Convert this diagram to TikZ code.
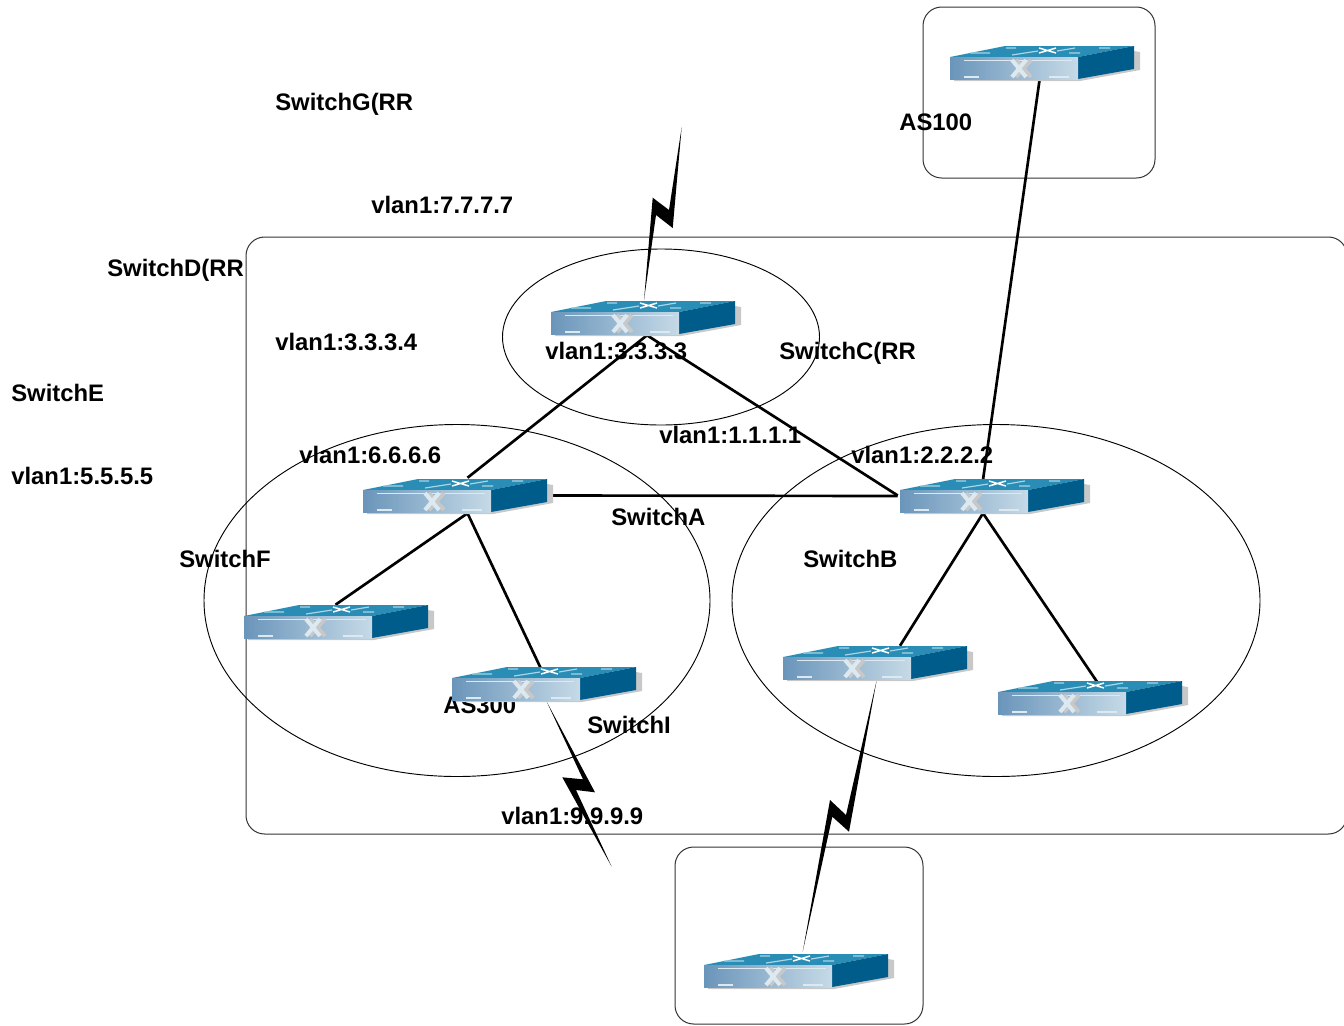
\documentclass[tikz,border=0pt]{standalone}
\usepackage{fontspec}
\setmainfont{Liberation Sans}
\definecolor{swtop}{HTML}{2A8DB5}
\definecolor{swside}{HTML}{005C8A}
\definecolor{swdark}{HTML}{6A95BA}
\definecolor{swlight}{HTML}{C6DAE7}
\definecolor{swshadow}{HTML}{C8C8C8}
\definecolor{swglow}{HTML}{DCE9F1}
\definecolor{swglint}{HTML}{A9D5E6}
\definecolor{framecol}{HTML}{333333}
\tikzset{
  x=0.75pt,y=-0.75pt,
  frame/.style={draw=framecol,line width=0.75pt,rounded corners=14pt},
  zone/.style={draw=black,line width=0.7pt},
  link/.style={draw=black,line width=2pt},
  bolt/.style={fill=black,draw=none},
  lbl/.style={font=\fontsize{17.9pt}{20pt}\selectfont\bfseries,anchor=base west,inner sep=0pt,text=black},
  swbody/.style={minimum width=137.25pt,minimum height=24.75pt,inner sep=0pt,draw=none},
}
% #1 x and #2 y of the top left corner of the front face
\newcommand{\swi}[2]{%
  \begin{scope}[shift={(#1,#2)}]
    \fill[swshadow] (184,-6) -- (190,-5) -- (190,13) -- (130,24) -- (4,24) -- (4,22) -- (128,22) -- cycle;
    \fill[swtop] (0,0) -- (55,-11) -- (184,-11) -- (128,0) -- cycle;
    \fill[swside] (128,0) -- (184,-11) -- (184,12) -- (128,22) -- cycle;
    \shade[left color=swdark,right color=swlight] (0,0) rectangle (128,22);
    \draw[swglow,line width=0.9pt] (14,3.5) -- (122,3.5);
    \draw[swglow,line width=1.1pt] (14,20) -- (29,20) (99,20) -- (119,20);
    \draw[swglint,line width=0.9pt] (20,-4) -- (40,-4) (56,-9) -- (66,-9) (149,-9) -- (160,-9) (119,-4) -- (130,-4) (62,-2) -- (88,-6) (107,-6) -- (125,-9);
    \draw[white,line width=1.1pt] (89,-9) -- (106,-4) (106,-9) -- (89,-4);
    \draw[swshadow,line width=3pt] (66,3) -- (81,20) (81,3) -- (66,20);
    \draw[swglow,line width=3pt] (62,3) -- (76,20) (76,3) -- (62,20);
  \end{scope}}
\begin{document}
\begin{tikzpicture}
\useasboundingbox (0,0) rectangle (1344,1025);
\clip (0,0) rectangle (1344,1025);
\fill[white] (0,0) rectangle (1344,1025);
% frames and zones
\draw[frame] (923,7) rectangle (1155,178);
\draw[frame] (246,237) rectangle (1347,834);
\draw[frame] (675,847) rectangle (923,1024);
\draw[zone] (661,337) ellipse [x radius=158.5,y radius=88];
\draw[zone] (457,600.5) ellipse [x radius=253,y radius=176];
\draw[zone] (996,600.5) ellipse [x radius=264,y radius=176];
% switch anchors
\node[swbody] (sU) at (1041.5,62.5) {};
\node[swbody] (sT) at (642.5,317.5) {};
\node[swbody] (sA) at (454.5,495.5) {};
\node[swbody] (sC) at (991.5,495.5) {};
\node[swbody] (sF) at (335.5,621.5) {};
\node[swbody] (sI) at (543.5,683.5) {};
\node[swbody] (sG) at (874.5,662.5) {};
\node[swbody] (sH) at (1089.5,697.5) {};
\node[swbody] (sB) at (795.5,970.5) {};
% links
\draw[link] ([shift={(-2,1)}]sU.south) -- ([shift={(-8.5,1)}]sC.north);
\draw[link] ([shift={(4.5,1)}]sT.south) -- ([shift={(13,-1)}]sA.north);
\draw[link] ([shift={(4.5,1)}]sT.south) -- ([shift={(-2,0)}]sC.west);
\draw[link] ([shift={(6,0)}]sA.east) -- ([shift={(-2,0.5)}]sC.west);
\draw[link] ([shift={(13,1)}]sA.south) -- (sF.north);
\draw[link] ([shift={(13,1)}]sA.south) -- ([shift={(-3,1)}]sI.north);
\draw[link] ([shift={(-8.5,1)}]sC.south) -- ([shift={(25.5,0)}]sG.north);
\draw[link] ([shift={(-8.5,1)}]sC.south) -- ([shift={(7.5,1)}]sH.north);
% wireless bolts
\fill[bolt] (681.7,127) -- (672.7,228) -- (656,215) -- (644,300) -- (652.7,197.7) -- (669,210) -- cycle;
\fill[bolt] (546.7,701.7) -- (595,792.3) -- (576,790) -- (611.7,866.7) -- (562.3,777.3) -- (583,779.3) -- cycle;
\fill[bolt] (876.7,680) -- (849,831.7) -- (832.3,816.7) -- (802.7,951.7) -- (830,800) -- (846,815) -- cycle;
% labels
\node[lbl] (t1) at (275,110) {SwitchG(RR};
\node[lbl] (t2) at (371,213) {vlan1:7.7.7.7};
\node[lbl] (t3) at (107,276) {SwitchD(RR};
\node[lbl] (t4) at (275,350) {vlan1:3.3.3.4};
\node[lbl] (t5) at (545,359) {vlan1:3.3.3.3};
\node[lbl] (t6) at (779,359) {SwitchC(RR};
\node[lbl] (t7) at (11,401) {SwitchE};
\node[lbl] (t8) at (659,443) {vlan1:1.1.1.1};
\node[lbl] (t9) at (299,463) {vlan1:6.6.6.6};
\node[lbl] (t10) at (851,463) {vlan1:2.2.2.2};
\node[lbl] (t11) at (11,484) {vlan1:5.5.5.5};
\node[lbl] (t12) at (611,525) {SwitchA};
\node[lbl] (t13) at (179,567) {SwitchF};
\node[lbl] (t14) at (803,567) {SwitchB};
\node[lbl] (t15) at (443,713) {AS300};
\node[lbl] (t16) at (587,733) {SwitchI};
\node[lbl] (t17) at (501,824) {vlan1:9.9.9.9};
\node[lbl] (t18) at (899,130) {AS100};
% switches
\swi{950}{57}
\swi{551}{312}
\swi{363}{490}
\swi{900}{490}
\swi{244}{616}
\swi{452}{678}
\swi{783}{657}
\swi{998}{692}
\swi{704}{965}
\end{tikzpicture}
\end{document}
